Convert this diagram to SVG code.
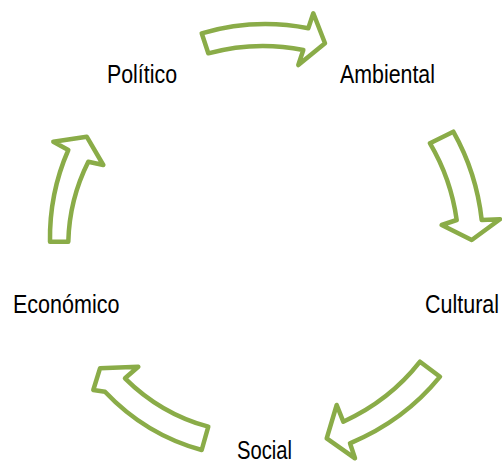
<svg xmlns="http://www.w3.org/2000/svg" width="502" height="463" viewBox="0 0 502 463">
<style>
.arr{fill:#ffffff;stroke:#8AAC48;stroke-width:4.5;stroke-linejoin:round}
.lbl{font-family:"Liberation Sans",Arial,sans-serif;font-size:26px;fill:#000000}
</style>
<rect width="502" height="463" fill="#ffffff"/>
<g id="connectors">
<path class="arr" d="M201.7,33.3 Q255,17.8 308.3,28.3 L313.3,13.3 L325,43.3 L298.3,65 L303.3,50 Q255.8,40.4 208.3,53.3 Z"/>
<path class="arr" d="M430,143.3 L453.3,131.7 Q476.5,172.95 481.7,220 L500,219.3 L471.7,240 L441.7,225 L456.7,220 Q451.05,178.95 430,143.3 Z"/>
<path class="arr" d="M420,361.7 L440,376.7 Q404.2,420.8 350,443.3 L355,458.3 L326.7,438.3 L336.7,405 L343.3,421.7 Q389.55,400.7 420,361.7 Z"/>
<path class="arr" d="M201.7,450 L208.3,426.7 Q160.5,413.7 125,378.3 L138.3,366.7 L100,368.3 L93.3,390 L105,391.7 Q145.4,434.5 201.7,450 Z"/>
<path class="arr" d="M50,241.7 L68.3,241.7 Q69.3,199.5 88.3,161.7 L103.3,165 L86.7,136.7 L53.3,141.7 L68.3,150 Q49.25,193.35 50,241.7 Z"/>
</g>
<g id="node-politico"><text class="lbl" x="107" y="83" textLength="70" lengthAdjust="spacingAndGlyphs">Político</text></g>
<g id="node-ambiental"><text class="lbl" x="340" y="83" textLength="95" lengthAdjust="spacingAndGlyphs">Ambiental</text></g>
<g id="node-cultural"><text class="lbl" x="425" y="313" textLength="74" lengthAdjust="spacingAndGlyphs">Cultural</text></g>
<g id="node-social"><text class="lbl" x="237" y="459" textLength="55" lengthAdjust="spacingAndGlyphs">Social</text></g>
<g id="node-economico"><text class="lbl" x="13" y="313" textLength="106.5" lengthAdjust="spacingAndGlyphs">Económico</text></g>
</svg>
